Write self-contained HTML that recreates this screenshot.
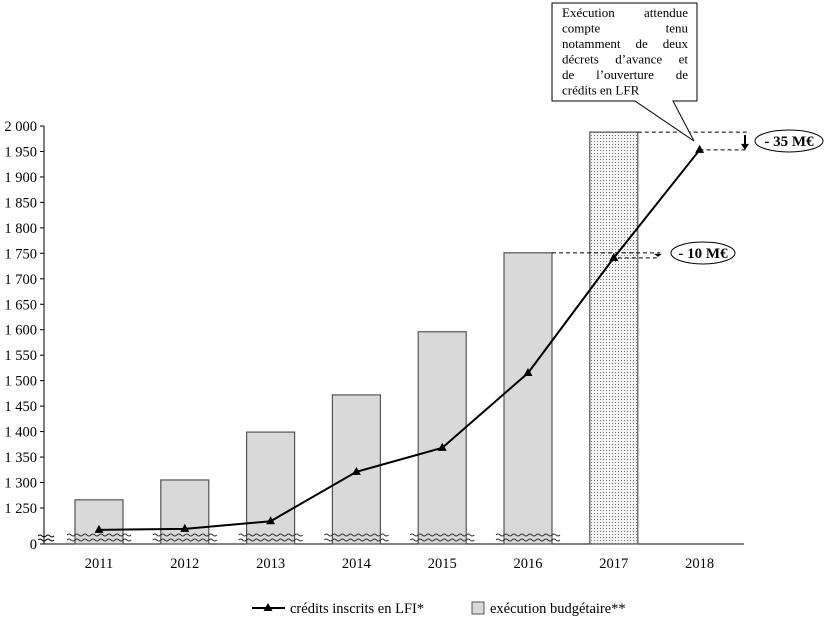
<!DOCTYPE html>
<html><head><meta charset="utf-8"><style>
body{margin:0;background:#fff;}
svg{display:block;font-family:"Liberation Serif",serif;}
</style></head><body>
<svg id="c" width="831" height="630">
<defs>
<pattern id="dots" width="3" height="3" patternUnits="userSpaceOnUse">
<rect width="3" height="3" fill="#f4f4f4"/><rect width="1" height="1" fill="#777"/>
</pattern>
</defs>
</svg>
<script>
const categories=['2011','2012','2013','2014','2015','2016','2017','2018'];
const execution=[1266,1305,1399,1472,1596,1751,1988,null];
const credits=[1207,1209,1224,1321,1368,1515,1741,1953];
const yTicks=[2000,1950,1900,1850,1800,1750,1700,1650,1600,1550,1500,1450,1400,1350,1300,1250];
const yTickLabels=['2 000','1 950','1 900','1 850','1 800','1 750','1 700','1 650','1 600','1 550','1 500','1 450','1 400','1 350','1 300','1 250'];
const svg=document.getElementById('c');const NS='http://www.w3.org/2000/svg';
function mk(t,a,p){const e=document.createElementNS(NS,t);for(const k in a)e.setAttribute(k,a[k]);(p||svg).appendChild(e);return e;}
const y=v=>126+(2000-v)*0.5093;
const x=i=>99+i*85.8;
const Y0=544,X0=44;
let e=mk('line',{x1:X0,y1:126,x2:X0,y2:Y0,stroke:'#000'});

e=mk('line',{x1:X0,y1:Y0,x2:744,y2:Y0,stroke:'#000'});

yTicks.forEach((v,i)=>{
 mk('line',{x1:X0-4,y1:y(v),x2:X0,y2:y(v),stroke:'#000'});
 const t=mk('text',{x:X0-7,y:y(v)+5,'text-anchor':'end','font-size':14.5});t.textContent=yTickLabels[i];
 
});
mk('line',{x1:X0-4,y1:Y0,x2:X0,y2:Y0,stroke:'#000'});
let t0=mk('text',{x:X0-7,y:Y0+5,'text-anchor':'end','font-size':14.5});t0.textContent='0';

function wave(x1,x2,yy){let d='M'+x1+' '+yy;for(let xx=x1;xx<x2;xx+=8){d+=' q2 -2 4 0 q2 2 4 0';}return d;}
mk('path',{d:wave(38,50,536),fill:'none',stroke:'#000','stroke-width':1});
mk('path',{d:wave(38,50,540),fill:'none',stroke:'#000','stroke-width':1});
execution.forEach((v,i)=>{
 if(v==null)return;
 const b=mk('rect',{x:x(i)-24,y:y(v),width:48,height:Y0-y(v),fill:i==6?'url(#dots)':'#d9d9d9',stroke:'#555','stroke-width':1.2});
 
 if(i<6){mk('path',{d:wave(x(i)-32,x(i)+32,535),fill:'none',stroke:'#333'});mk('path',{d:wave(x(i)-32,x(i)+32,540),fill:'none',stroke:'#333'});}
});
const pl=mk('polyline',{points:credits.map((v,i)=>x(i)+','+y(v)).join(' '),fill:'none',stroke:'#000','stroke-width':2});

credits.forEach((v,i)=>{const m=mk('path',{d:`M${x(i)} ${y(v)-5} L${x(i)+4.5} ${y(v)+3} L${x(i)-4.5} ${y(v)+3}Z`,fill:'#000'});
 });
categories.forEach((c,i)=>{const t=mk('text',{x:x(i),y:568,'text-anchor':'middle','font-size':14.5});t.textContent=c;
 });
const ex17=y(execution[6]),cr18=y(credits[7]),ex16=y(execution[5]),cr17=y(credits[6]);
mk('line',{x1:x(6)+24,y1:ex17,x2:748,y2:ex17,stroke:'#000','stroke-dasharray':'4,3'});
mk('line',{x1:x(7),y1:cr18,x2:748,y2:cr18,stroke:'#000','stroke-dasharray':'4,3'});
mk('line',{x1:745,y1:ex17+3,x2:745,y2:cr18-4,stroke:'#000','stroke-width':2});
mk('path',{d:`M741 ${cr18-6} L749 ${cr18-6} L745 ${cr18}Z`,fill:'#000'});
mk('line',{x1:x(5)+24,y1:ex16,x2:660,y2:ex16,stroke:'#000','stroke-dasharray':'4,3'});
mk('line',{x1:x(6)+4,y1:cr17,x2:660,y2:cr17,stroke:'#000','stroke-dasharray':'4,3'});
mk('path',{d:`M654 ${ex16+1} L662 ${ex16+1} L658 ${cr17-1}Z`,fill:'#000'});
let el=mk('ellipse',{cx:789,cy:141,rx:34,ry:11,fill:'#fff',stroke:'#000'});

let tt=mk('text',{x:789,y:146,'text-anchor':'middle','font-size':15,'font-weight':'bold'});tt.textContent='- 35 M€';
el=mk('ellipse',{cx:703,cy:253,rx:32,ry:11,fill:'#fff',stroke:'#000'});

tt=mk('text',{x:703,y:258,'text-anchor':'middle','font-size':15,'font-weight':'bold'});tt.textContent='- 10 M€';
const cb=mk('path',{d:'M552 3 H697 V101 H673 L694 141 L635 101 H552 Z',fill:'#fff',stroke:'#000','stroke-width':1});

const lines=['Exécution attendue','compte tenu','notamment de deux','décrets d’avance et','de l’ouverture de','crédits en LFR'];
lines.forEach((l,i)=>{
 const yy=17+i*15.5, words=l.split(' ');
 if(i==5){let a=mk('text',{x:562,y:yy,'font-size':13});a.textContent=l;return;}
 const els=words.map(w=>{let a=mk('text',{x:0,y:yy,'font-size':13});a.textContent=w;return a;});
 const ws=els.map(a=>a.getComputedTextLength());
 const total=ws.reduce((s,v)=>s+v,0);const gap=(126-total)/(words.length-1);
 let cx=562;els.forEach((a,k)=>{a.setAttribute('x',cx);cx+=ws[k]+gap;});
});
mk('line',{x1:252,y1:608,x2:285,y2:608,stroke:'#000','stroke-width':2});
mk('path',{d:'M268 603 L272.5 611 L263.5 611Z',fill:'#000'});
let lg=mk('text',{x:290,y:613,'font-size':14.5});lg.textContent='crédits inscrits en LFI*';

mk('rect',{x:472,y:602,width:12,height:12,fill:'#d9d9d9',stroke:'#555'});
lg=mk('text',{x:490,y:613,'font-size':14.5});lg.textContent='exécution budgétaire**';

</script>
</body></html>
